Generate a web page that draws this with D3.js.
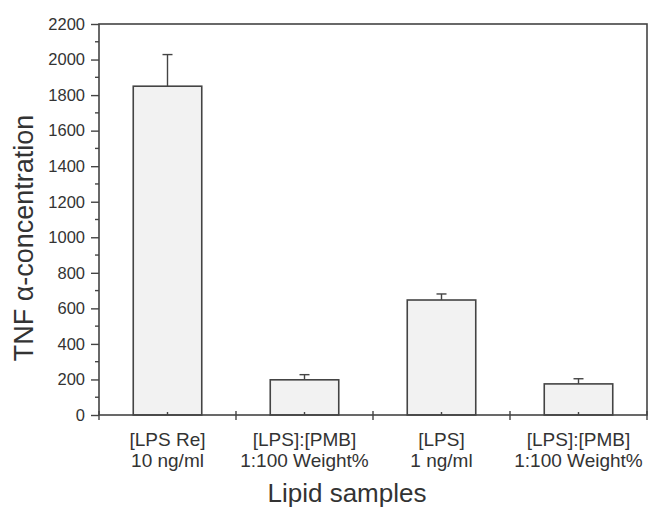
<!DOCTYPE html>
<html>
<head>
<meta charset="utf-8">
<script src="https://cdn.jsdelivr.net/npm/d3@7"></script>
<style>
  body{margin:0;background:#fff;}
  text{font-family:"Liberation Sans",Arial,sans-serif;fill:#333;}
</style>
</head>
<body>
<svg id="chart"></svg>
<script>
// data
const categories=["[LPS Re]|10 ng/ml","[LPS]:[PMB]|1:100 Weight%","[LPS]|1 ng/ml","[LPS]:[PMB]|1:100 Weight%"];
const values=[1850,198,647,175];
const errors=[178,29,34,29];
const yTicks=d3.range(0,2201,200);

const w=654,h=509;
const margin={top:24,right:7,bottom:94,left:99};

let svg=d3.select('#chart').attr('width',w).attr('height',h);

const x=d3.scaleBand()
  .domain(d3.range(categories.length))
  .range([margin.left,w-margin.right])
  .paddingInner(0).paddingOuter(0);
const y=d3.scaleLinear().domain([0,2200]).range([h-margin.bottom,margin.top]);

const stroke='#444';
const x0=margin.left, x1=w-margin.right, y0=h-margin.bottom, y1=margin.top;

// bars
svg.append('g')
  .selectAll('rect')
  .data(values)
  .join('rect')
    .attr('x',(d,i)=>x(i)+x.bandwidth()*0.25)
    .attr('width',x.bandwidth()*0.5)
    .attr('y',d=>y(d))
    .attr('height',d=>y(0)-y(d))
    .attr('fill','#f2f2f2')
    .attr('stroke',stroke)
    .attr('stroke-width',1.6);

// error bars (upper only)
const err=svg.append('g').attr('stroke',stroke).attr('stroke-width',1.4);
values.forEach((v,i)=>{
  let cx=x(i)+x.bandwidth()/2;
  err.append('line').attr('x1',cx).attr('x2',cx).attr('y1',y(v)).attr('y2',y(v+errors[i]));
  err.append('line').attr('x1',cx-5).attr('x2',cx+5).attr('y1',y(v+errors[i])).attr('y2',y(v+errors[i]));
});

// frame
svg.append('rect')
  .attr('x',x0).attr('y',y1)
  .attr('width',x1-x0).attr('height',y0-y1)
  .attr('fill','none').attr('stroke',stroke).attr('stroke-width',1.6);

// y axis
const yAxis=d3.axisLeft(y).tickValues(yTicks).tickFormat(d3.format('d')).tickSize(8).tickPadding(6);
const gy=svg.append('g').attr('transform',`translate(${x0},0)`).call(yAxis);
gy.select('.domain').remove();
gy.selectAll('line').attr('stroke',stroke).attr('stroke-width',1.4);
gy.selectAll('text').style('font-size','16.5px').attr('fill','#333');
// minor y ticks
svg.append('g').selectAll('line')
  .data(d3.range(100,2200,200))
  .join('line')
    .attr('x1',x0-4).attr('x2',x0)
    .attr('y1',d=>y(d)).attr('y2',d=>y(d))
    .attr('stroke',stroke).attr('stroke-width',1.4);

// x ticks: boundaries cross the axis, centers small inward
const bounds=d3.range(categories.length+1).map(i=>i<categories.length?x(i):x1);
svg.append('g').selectAll('line')
  .data(bounds)
  .join('line')
    .attr('x1',d=>d).attr('x2',d=>d)
    .attr('y1',y0-4).attr('y2',y0+5)
    .attr('stroke',stroke).attr('stroke-width',1.4);
svg.append('g').selectAll('line')
  .data(d3.range(categories.length))
  .join('line')
    .attr('x1',i=>x(i)+x.bandwidth()/2).attr('x2',i=>x(i)+x.bandwidth()/2)
    .attr('y1',y0-3).attr('y2',y0)
    .attr('stroke',stroke).attr('stroke-width',1.4);

// category labels
const lab=svg.append('g').selectAll('text')
  .data(categories)
  .join('text')
    .attr('text-anchor','middle')
    .attr('x',(d,i)=>x(i)+x.bandwidth()/2)
    .attr('y',446)
    .style('font-size','19px');
lab.each(function(d){
  let parts=d.split('|');
  let t=d3.select(this);
  t.append('tspan').attr('x',t.attr('x')).text(parts[0]);
  t.append('tspan').attr('x',t.attr('x')).attr('dy',21).text(parts[1]);
});

// axis titles
svg.append('text')
  .attr('text-anchor','middle')
  .attr('x',347).attr('y',502)
  .style('font-size','26px')
  .text('Lipid samples');

svg.append('text')
  .attr('text-anchor','middle')
  .attr('transform',`translate(33,238) rotate(-90)`)
  .style('font-size','27px')
  .text('TNF α-concentration');
</script>
</body>
</html>
